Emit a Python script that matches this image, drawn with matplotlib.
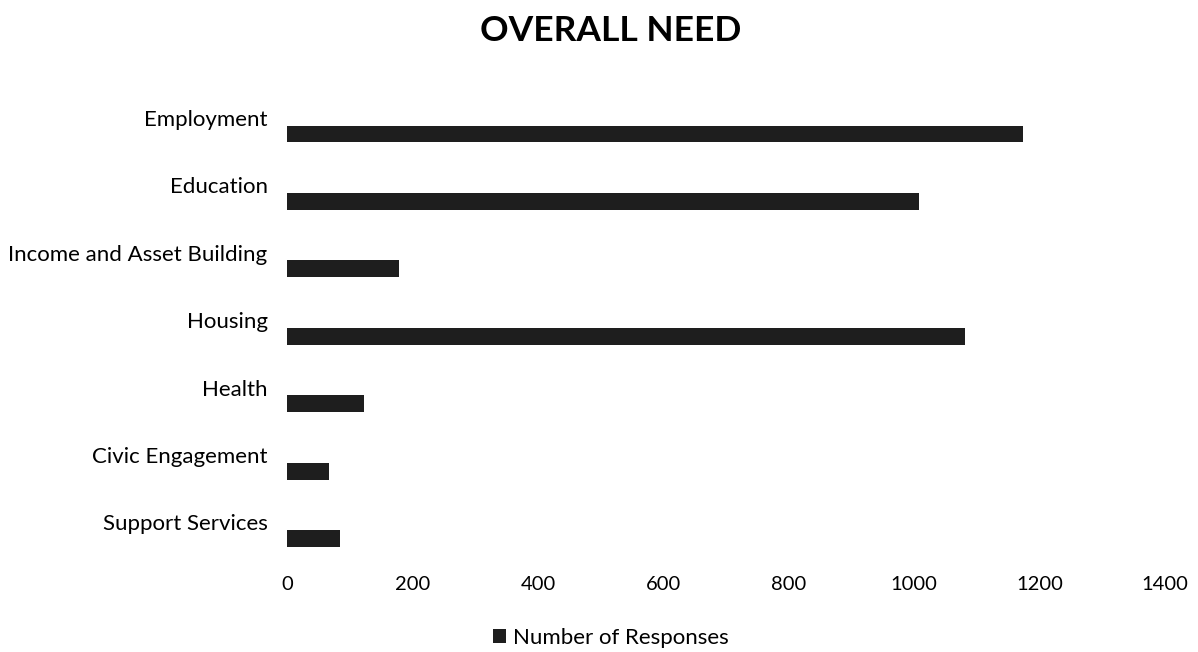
import matplotlib
matplotlib.use("Agg")
import matplotlib.pyplot as plt
from matplotlib.patches import Patch

categories = ["Employment", "Education", "Income and Asset Building", "Housing",
              "Health", "Civic Engagement", "Support Services"]
responses = [1174, 1008, 179, 1081, 123, 67, 85]
x_ticks = [0, 200, 400, 600, 800, 1000, 1200, 1400]
series_name = "Number of Responses"
title = "OVERALL NEED"

plt.rcParams["font.family"] = ["Lato", "DejaVu Sans"]

fig = plt.figure(figsize=(11.98, 6.52), dpi=100)
ax = fig.add_axes([0.2396, 0.147, 0.7329, 0.724])

bar_color = "#1e1e1e"
pos = list(range(len(categories)))
offset = 0.24
ax.barh([p + offset for p in pos], responses, height=0.25, color=bar_color)

ax.set_ylim(len(categories) - 0.5, -0.5)
ax.set_xlim(x_ticks[0], x_ticks[-1])
ax.set_yticks(pos)
ax.set_yticklabels(categories, fontsize=16)
ax.set_xticks(x_ticks)
ax.set_xticklabels([str(t) for t in x_ticks], fontsize=14.5)
ax.tick_params(axis="both", length=0)
ax.tick_params(axis="y", pad=14)
ax.tick_params(axis="x", pad=14)
for s in ax.spines.values():
    s.set_visible(False)

fig.text(0.51, 0.952, title, ha="center", va="center", fontsize=25.5, fontweight="bold")

fig.legend(handles=[Patch(facecolor=bar_color, label=series_name)],
           loc="center", bbox_to_anchor=(0.51, 0.022), frameon=False,
           fontsize=16, handlelength=0.6, handleheight=0.6, handletextpad=0.3)

fig.savefig("out.png", dpi=100, facecolor="white")
